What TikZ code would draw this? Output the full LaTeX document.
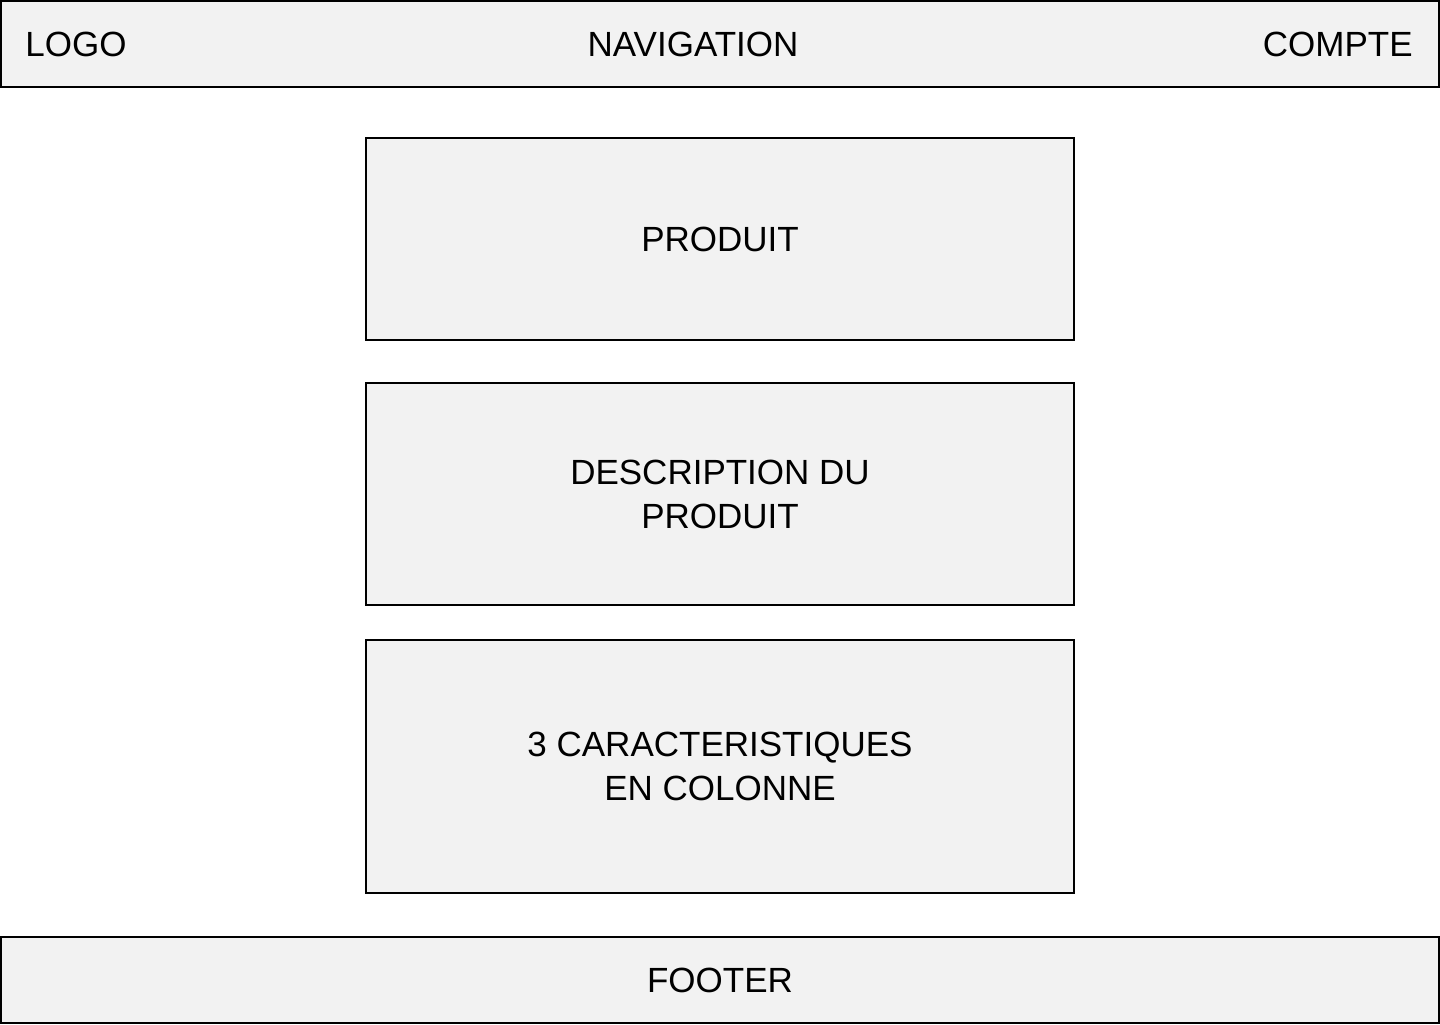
\documentclass[tikz,border=0pt]{standalone}
\usepackage{fontspec}
\setmainfont{Liberation Sans}
\usetikzlibrary{positioning}

\definecolor{boxfill}{RGB}{242,242,242}

\begin{document}
\begin{tikzpicture}[
			x=0.5pt, y=-0.5pt,
			zone/.style={rectangle, draw=black, fill=boxfill, line width=1pt, inner sep=0pt, text centered, align=center, font=\fontsize{17.5}{22}\selectfont},
			label/.style={inner sep=0pt, font=\fontsize{17.5}{22}\selectfont}
		]
		\useasboundingbox (0,0) rectangle (1440,1024);
		% Bars
		\node[zone, minimum width=719pt, minimum height=43pt] (header) at (720,44) {};
		\node[label, anchor=west] (logo) at (25,44) {LOGO};
		\node[label] (nav) at (693,44) {NAVIGATION};
		\node[label, anchor=east] (compte) at (1413,44) {COMPTE};
		% Content
		\node[zone, minimum width=354pt, minimum height=101pt] (produit) at (720,239) {PRODUIT};
		\node[zone, minimum width=354pt, minimum height=111pt] (description) at (720,494) {DESCRIPTION DU\\PRODUIT};
		\node[zone, minimum width=354pt, minimum height=126.5pt] (caracteristiques) at (720,766.5) {3 CARACTERISTIQUES\\EN COLONNE};
		% Footer
		\node[zone, minimum width=719pt, minimum height=43pt] (footer) at (720,980) {FOOTER};
	\end{tikzpicture}
\end{document}
